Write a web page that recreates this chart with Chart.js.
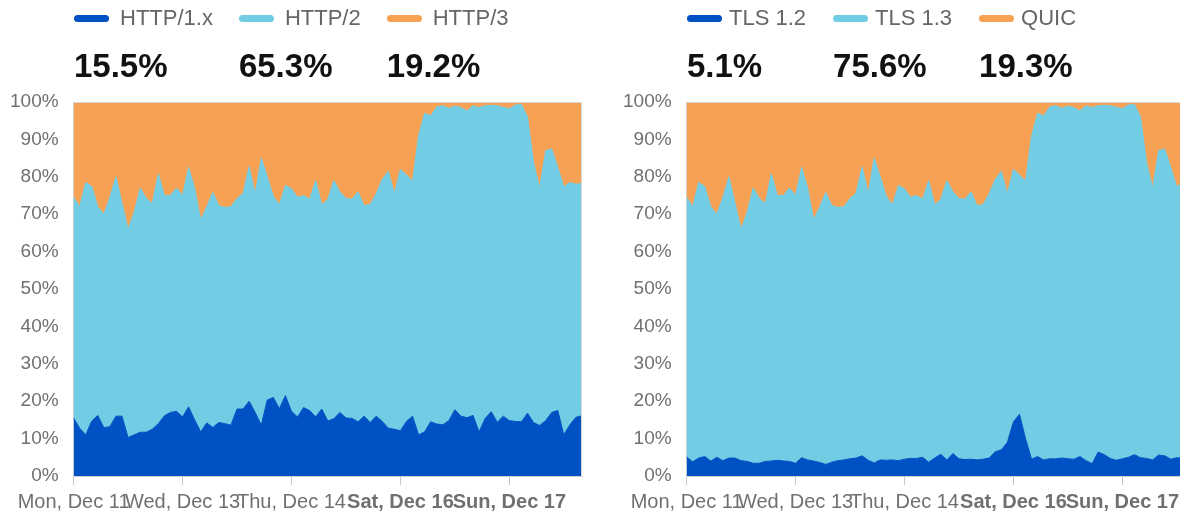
<!DOCTYPE html>
<html>
<head>
<meta charset="utf-8">
<script src="https://cdn.jsdelivr.net/npm/chart.js@4.4.0/dist/chart.umd.min.js"></script>
<style>
html, body { margin: 0; padding: 0; background: #fff; overflow: hidden; width: 1180px; height: 520px; }
.panel { position: absolute; top: 0; width: 609px; height: 520px; }
.legend { position: absolute; top: 0; display: flex; font-family: "Liberation Sans", Arial, sans-serif; z-index: 2; }
.item { margin-right: 26px; }
.key { display: flex; align-items: center; height: 36px; }
.swatch { width: 35px; height: 7px; border-radius: 4px; margin-right: 11px; }
#tlsLegend .swatch { margin-right: 7px; }
#tlsLegend .item { margin-right: 27px; }
.name { font-size: 22px; color: #666; }
.pct { font-size: 33px; line-height: 33px; font-weight: bold; color: #111; margin-top: 13px; }
</style>
</head>
<body>
<div class="panel" style="left:-9px"><canvas id="proto"></canvas></div>
<div class="legend" id="protoLegend" style="left:74px"></div>
<div class="panel" style="left:604px"><canvas id="tls"></canvas></div>
<div class="legend" id="tlsLegend" style="left:687px"></div>
<script>
// one point every 2h, Dec 11 12:00 .. Dec 18 12:00
var tickLabels = ['Mon, Dec 11', 'Wed, Dec 13', 'Thu, Dec 14', 'Sat, Dec 16', 'Sun, Dec 17'];
var tickStep = 18;
var pointCount = 85;

var protoNames = ['HTTP/1.x', 'HTTP/2', 'HTTP/3'];
var protoTotals = ['15.5%', '65.3%', '19.2%'];
var http1 = [15.5, 12.8, 11.0, 14.7, 16.2, 12.9, 13.2, 16.0, 16.0, 10.3,
  11.0, 11.7, 11.7, 12.5, 14.0, 16.1, 17.0, 17.3, 15.8, 18.5,
  15.0, 11.8, 14.2, 13.0, 14.3, 14.0, 13.6, 17.9, 17.9, 20.0,
  17.0, 13.6, 20.3, 21.0, 18.0, 21.5, 17.3, 15.8, 18.3, 17.5,
  15.8, 17.9, 14.7, 15.3, 17.0, 15.5, 15.4, 14.5, 16.0, 14.3,
  16.0, 14.6, 12.8, 12.5, 12.1, 14.6, 16.0, 11.0, 11.8, 14.5,
  13.9, 13.7, 14.8, 17.7, 16.0, 15.6, 16.2, 11.8, 15.4, 17.2,
  14.4, 16.0, 14.8, 14.6, 14.5, 16.8, 14.3, 13.5, 14.8, 17.0,
  17.5, 11.0, 13.7, 15.7, 16.1];
var http2 = [59.0, 59.2, 67.5, 62.7, 55.8, 57.1, 61.3, 64.0, 57.0, 55.7,
  59.5, 65.3, 62.6, 60.3, 66.8, 58.9, 58.0, 59.7, 59.2, 64.0,
  62.0, 56.7, 57.8, 62.8, 58.0, 57.8, 58.4, 56.3, 57.7, 62.7,
  58.5, 71.4, 59.7, 53.8, 54.5, 56.2, 59.5, 58.7, 56.7, 56.5,
  63.2, 54.6, 59.3, 63.7, 59.0, 58.7, 58.6, 61.5, 56.3, 58.3,
  59.5, 64.7, 68.7, 63.0, 69.9, 65.9, 62.8, 80.0, 85.2, 81.8,
  84.8, 85.3, 83.5, 81.2, 82.5, 82.0, 82.8, 86.7, 83.6, 81.9,
  84.6, 82.6, 83.4, 84.6, 84.8, 79.2, 69.5, 63.5, 72.2, 70.4,
  65.0, 66.3, 64.8, 62.3, 62.1];
var http3 = [25.5, 28.0, 21.5, 22.6, 28.0, 30.0, 25.5, 20.0, 27.0, 34.0,
  29.5, 23.0, 25.7, 27.2, 19.2, 25.0, 25.0, 23.0, 25.0, 17.5,
  23.0, 31.5, 28.0, 24.2, 27.7, 28.2, 28.0, 25.8, 24.4, 17.3,
  24.5, 15.0, 20.0, 25.2, 27.5, 22.3, 23.2, 25.5, 25.0, 26.0,
  21.0, 27.5, 26.0, 21.0, 24.0, 25.8, 26.0, 24.0, 27.7, 27.4,
  24.5, 20.7, 18.5, 24.5, 18.0, 19.5, 21.2, 9.0, 3.0, 3.7,
  1.3, 1.0, 1.7, 1.1, 1.5, 2.4, 1.0, 1.5, 1.0, 0.9,
  1.0, 1.4, 1.8, 0.8, 0.7, 4.0, 16.2, 23.0, 13.0, 12.6,
  17.5, 22.7, 21.5, 22.0, 21.7];

var tlsNames = ['TLS 1.2', 'TLS 1.3', 'QUIC'];
var tlsTotals = ['5.1%', '75.6%', '19.3%'];
var tls12 = [5.1, 3.8, 4.8, 5.2, 4.0, 5.0, 4.1, 4.8, 4.8, 4.1,
  3.9, 3.4, 3.4, 3.9, 4.0, 4.2, 4.0, 3.9, 3.4, 4.9,
  4.3, 4.0, 3.6, 3.1, 3.7, 4.1, 4.3, 4.6, 4.8, 5.4,
  4.2, 3.5, 4.3, 4.2, 4.3, 4.1, 4.5, 4.7, 4.7, 5.0,
  3.7, 4.8, 5.8, 4.3, 6.0, 4.6, 4.4, 4.5, 4.3, 4.5,
  4.8, 6.5, 7.0, 9.0, 14.5, 16.5, 10.0, 4.5, 5.2, 4.3,
  4.6, 4.6, 4.8, 4.6, 4.5, 5.2, 4.1, 3.3, 6.4, 5.7,
  4.7, 4.2, 4.6, 5.0, 5.7, 4.9, 4.7, 4.3, 5.6, 5.4,
  4.5, 4.9, 4.7, 4.6, 4.8];
var tls13 = [69.4, 68.2, 73.7, 72.2, 68.0, 65.0, 70.4, 75.2, 68.2, 61.9,
  66.6, 73.6, 70.9, 68.9, 76.8, 70.8, 71.0, 73.1, 71.6, 77.6,
  72.7, 64.5, 68.4, 72.7, 68.6, 67.7, 67.7, 69.6, 70.8, 77.3,
  71.3, 81.5, 75.7, 70.6, 68.2, 73.6, 72.3, 69.8, 70.3, 69.0,
  75.3, 67.7, 68.2, 74.7, 70.0, 69.6, 69.6, 71.5, 68.0, 68.1,
  70.7, 72.8, 74.5, 66.5, 67.5, 64.0, 68.8, 86.5, 91.8, 92.0,
  94.1, 94.4, 93.5, 94.3, 94.0, 92.4, 94.9, 95.2, 92.6, 93.4,
  94.3, 94.4, 93.6, 94.2, 93.6, 91.1, 79.1, 72.7, 81.4, 82.0,
  78.0, 72.4, 73.8, 73.4, 73.4];
var quic = [25.5, 28.0, 21.5, 22.6, 28.0, 30.0, 25.5, 20.0, 27.0, 34.0,
  29.5, 23.0, 25.7, 27.2, 19.2, 25.0, 25.0, 23.0, 25.0, 17.5,
  23.0, 31.5, 28.0, 24.2, 27.7, 28.2, 28.0, 25.8, 24.4, 17.3,
  24.5, 15.0, 20.0, 25.2, 27.5, 22.3, 23.2, 25.5, 25.0, 26.0,
  21.0, 27.5, 26.0, 21.0, 24.0, 25.8, 26.0, 24.0, 27.7, 27.4,
  24.5, 20.7, 18.5, 24.5, 18.0, 19.5, 21.2, 9.0, 3.0, 3.7,
  1.3, 1.0, 1.7, 1.1, 1.5, 2.4, 1.0, 1.5, 1.0, 0.9,
  1.0, 1.4, 1.8, 0.8, 0.7, 4.0, 16.2, 23.0, 13.0, 12.6,
  17.5, 22.7, 21.5, 22.0, 21.7];

var colors = ['#0051c3', '#72cce4', '#f6a154'];
var font = '"Liberation Sans", Arial, sans-serif';

var labels = [];
for (var i = 0; i < pointCount; i++) {
  labels.push(i % tickStep === 0 ? (tickLabels[i / tickStep] || '') : '');
}

// light frame on top/right of the plot
var framePlugin = {
  id: 'frame',
  afterDatasetsDraw: function (chart) {
    var a = chart.chartArea, c = chart.ctx;
    c.save();
    c.strokeStyle = '#d6d6d6';
    c.lineWidth = 1;
    c.beginPath();
    c.moveTo(a.left, a.top + 0.5);
    c.lineTo(a.right, a.top + 0.5);
    c.moveTo(a.right - 0.5, a.top);
    c.lineTo(a.right - 0.5, a.bottom);
    c.stroke();
    c.restore();
  }
};

function buildLegend(id, names, totals) {
  var box = document.getElementById(id);
  for (var i = 0; i < names.length; i++) {
    var item = document.createElement('div');
    item.className = 'item';
    item.innerHTML = '<div class="key"><span class="swatch" style="background:' + colors[i] + '"></span>' +
      '<span class="name">' + names[i] + '</span></div><div class="pct">' + totals[i] + '</div>';
    box.appendChild(item);
  }
}

function makeChart(id, names, series) {
  var datasets = [];
  for (var i = 0; i < series.length; i++) {
    datasets.push({
      label: names[i],
      data: series[i],
      backgroundColor: colors[i],
      borderColor: colors[i],
      borderWidth: 1,
      pointRadius: 0,
      tension: 0,
      fill: i === 0 ? 'origin' : '-1'
    });
  }
  return new Chart(document.getElementById(id), {
    type: 'line',
    data: { labels: labels, datasets: datasets },
    plugins: [framePlugin],
    options: {
      responsive: true,
      maintainAspectRatio: false,
      animation: false,
      layout: { padding: { top: 102, right: 18, bottom: 1, left: 4 } },
      plugins: { legend: { display: false }, tooltip: { enabled: false } },
      scales: {
        x: {
          z: 1,
          offset: false,
          grid: { drawOnChartArea: false, tickLength: 9, color: '#c8c8c8' },
          border: { color: '#d0d0d0' },
          ticks: {
            autoSkip: false,
            maxRotation: 0,
            padding: 5,
            color: '#707070',
            // weekend days in bold
            font: function (ctx) {
              var l = ctx.tick && ctx.tick.label;
              var weekend = typeof l === 'string' && /^(Sat|Sun)/.test(l);
              return { family: font, size: 20, weight: weekend ? 'bold' : 'normal' };
            },
            callback: function (v) {
              var l = this.getLabelForValue(v);
              return l ? l : null;
            }
          }
        },
        y: {
          z: 1,
          stacked: true,
          min: 0,
          max: 100,
          grid: { drawOnChartArea: false, drawTicks: false },
          border: { color: '#d0d0d0' },
          ticks: {
            stepSize: 10,
            padding: 15,
            color: '#707070',
            font: { family: font, size: 19 },
            callback: function (v) { return v + '%'; }
          }
        }
      }
    }
  });
}

buildLegend('protoLegend', protoNames, protoTotals);
buildLegend('tlsLegend', tlsNames, tlsTotals);
makeChart('proto', protoNames, [http1, http2, http3]);
makeChart('tls', tlsNames, [tls12, tls13, quic]);
</script>
</body>
</html>
